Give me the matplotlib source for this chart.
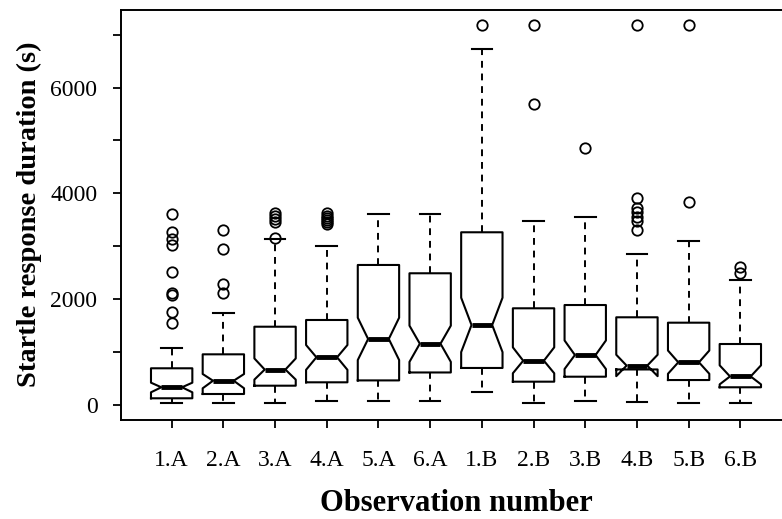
import matplotlib
matplotlib.use("Agg")
import matplotlib.pyplot as plt

labels = ["1.A", "2.A", "3.A", "4.A", "5.A", "6.A", "1.B", "2.B", "3.B", "4.B", "5.B", "6.B"]
whislo = [43, 43, 43, 81, 81, 81, 245, 32, 81, 62, 32, 32]
q1 = [127, 208, 365, 429, 465, 615, 700, 441, 535, 672, 472, 335]
med = [335, 459, 670, 902, 1248, 1159, 1512, 837, 945, 745, 807, 540]
q3 = [694, 958, 1480, 1607, 2647, 2490, 3265, 1828, 1890, 1658, 1556, 1153]
whishi = [1083, 1733, 3132, 3006, 3611, 3611, 6730, 3478, 3560, 2849, 3100, 2370]
cilo = [240, 316, 480, 665, 850, 815, 1000, 600, 680, 545, 590, 390]
cihi = [422, 586, 880, 1134, 1650, 1500, 2028, 1090, 1220, 950, 1030, 750]
fliers = [
    [3611, 3276, 3138, 3025, 2520, 2112, 2074, 1752, 1556],
    [3302, 2943, 2287, 2112],
    [3624, 3580, 3520, 3465, 3160],
    [3624, 3580, 3540, 3500, 3460, 3422],
    [],
    [],
    [7183],
    [7183, 5690],
    [4852],
    [7183, 3919, 3718, 3654, 3560, 3484, 3308],
    [7183, 3837],
    [2614, 2489],
]

plt.rcParams['font.family'] = ['Liberation Serif', 'DejaVu Serif']

fig = plt.figure(figsize=(7.82, 5.19), dpi=100)
ax = fig.add_axes([121/782, (519-419.5)/519, (791-121)/782, (419.5-9.5)/519])

stats = []
for i in range(len(labels)):
    stats.append(dict(med=med[i], q1=q1[i], q3=q3[i], whislo=whislo[i], whishi=whishi[i],
                      cilo=cilo[i], cihi=cihi[i], fliers=fliers[i], label=labels[i]))

positions = list(range(1, len(labels) + 1))
ax.bxp(stats, positions=positions, widths=0.8, shownotches=True, showfliers=True,
       capwidths=0.4,
       boxprops=dict(color='black', linewidth=1.5),
       medianprops=dict(color='black', linewidth=3.5, solid_capstyle='butt'),
       whiskerprops=dict(color='black', linewidth=1.4, linestyle=(0, (3.5, 3))),
       capprops=dict(color='black', linewidth=1.5),
       flierprops=dict(marker='o', markerfacecolor='none', markeredgecolor='black',
                       markersize=7.5, markeredgewidth=1.3, linestyle='none'))

ax.set_xlim(0.02, 12.98)
ax.set_ylim(-274, 7476)
ax.set_yticks([0, 1000, 2000, 3000, 4000, 5000, 6000, 7000])
ax.set_yticklabels(["0", "", "2000", "", "4000", "", "6000", ""])
ax.set_xticks(positions)
ax.set_xticklabels(labels)

for s in ax.spines.values():
    s.set_linewidth(1.4)
ax.tick_params(axis='both', length=6, width=1.3, labelsize=17, color='black')
ax.tick_params(axis='y', pad=11)
ax.tick_params(axis='x', pad=16)

ax.set_xlabel("Observation number", fontsize=22, fontweight='bold', labelpad=13)
ax.set_ylabel("Startle response duration (s)", fontsize=20.5, fontweight='bold', labelpad=6)

fig.savefig("out.png", dpi=100)
